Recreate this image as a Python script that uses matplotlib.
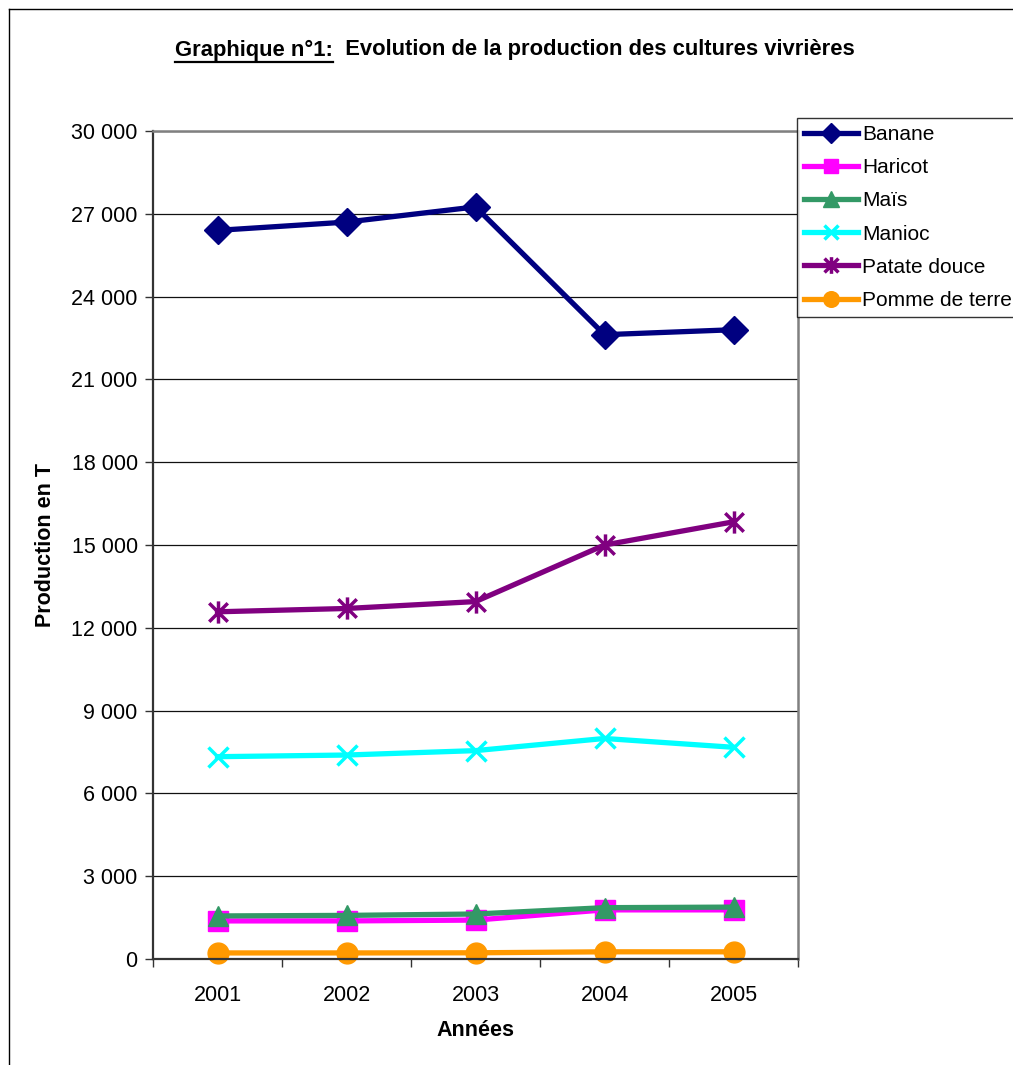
import matplotlib
matplotlib.use("Agg")
import matplotlib.pyplot as plt
from matplotlib.lines import Line2D
from matplotlib.path import Path
from matplotlib.ticker import FuncFormatter, FixedLocator

plt.rcParams["font.family"] = ["Liberation Sans", "DejaVu Sans"]

# Production (tonnes) par culture et par année
annees = ["2001", "2002", "2003", "2004", "2005"]
banane = [26400, 26700, 27250, 22620, 22800]
haricot = [1380, 1380, 1410, 1780, 1780]
mais = [1560, 1580, 1630, 1860, 1880]
manioc = [7330, 7390, 7550, 7990, 7670]
patate_douce = [12580, 12700, 12950, 15000, 15840]
pomme_de_terre = [220, 220, 225, 260, 260]

# étoile "x + barre verticale"
asterisk = Path(
    [(-1, -1), (1, 1), (-1, 1), (1, -1), (0, -1.2), (0, 1.2)],
    [Path.MOVETO, Path.LINETO, Path.MOVETO, Path.LINETO, Path.MOVETO, Path.LINETO],
)

series = [
    ("Banane", banane, "#000080", "D", 14),
    ("Haricot", haricot, "#FF00FF", "s", 14),
    ("Maïs", mais, "#339966", "^", 15),
    ("Manioc", manioc, "#00FFFF", "x", 14),
    ("Patate douce", patate_douce, "#800080", asterisk, 16),
    ("Pomme de terre", pomme_de_terre, "#FF9900", "o", 15),
]

W, H = 1013, 1065
fig = plt.figure(figsize=(W / 100, H / 100), dpi=100)
ax = fig.add_axes([153 / W, 1 - 959 / H, (798 - 153) / W, (959 - 131) / H])

x = list(range(len(annees)))
for name, vals, col, mk, ms in series:
    hollow = mk in ("x",) or isinstance(mk, Path)
    ax.plot(x, vals, color=col, lw=3.8, marker=mk, ms=ms,
            mfc="none" if hollow else col, mec=col,
            mew=2.5 if hollow else 1, label=name, clip_on=False)

ax.set_xlim(-0.5, 4.5)
ax.set_ylim(0, 30000)
ax.set_yticks(range(0, 30001, 3000))
ax.yaxis.set_major_formatter(FuncFormatter(lambda v, p: f"{v:,.0f}".replace(",", " ")))
ax.set_xticks(x)
ax.set_xticklabels(annees)
ax.xaxis.set_minor_locator(FixedLocator([i - 0.5 for i in range(len(annees) + 1)]))
ax.tick_params(axis="x", which="major", length=0, pad=19, labelsize=15.5)
ax.tick_params(axis="x", which="minor", length=6, width=1, color="#333333", direction="out")
ax.tick_params(axis="y", length=6, width=1, color="#333333", pad=5, labelsize=15.5)

ax.grid(axis="y", color="#111111", lw=0.9)
ax.set_axisbelow(True)
for s in ("left", "bottom"):
    ax.spines[s].set_color("#333333")
    ax.spines[s].set_linewidth(1.6)
for s in ("top", "right"):
    ax.spines[s].set_color("#808080")
    ax.spines[s].set_linewidth(1.8)

ax.set_ylabel("Production en T", fontsize=15.5, fontweight="bold")
ax.yaxis.set_label_coords((45 - 153) / 645, 0.5)
ax.yaxis.label.set_va("center")
ax.set_xlabel("Années", fontsize=15.5, fontweight="bold")
ax.xaxis.set_label_coords(0.5, (959 - 1030) / 828)
ax.xaxis.label.set_va("center")

leg = ax.legend(loc="upper left", bbox_to_anchor=(0.998, 1.016), borderaxespad=0,
                fontsize=15, frameon=True, fancybox=False, edgecolor="black",
                handlelength=2.6, handletextpad=0.2, labelspacing=0.68,
                borderpad=0.35, markerscale=0.75)
leg.get_frame().set_linewidth(1.0)

# titre avec la première partie soulignée
part1 = "Graphique n°1:"
part2 = "  Evolution de la production des cultures vivrières"
ty = 1 - 50 / H
t1 = fig.text(0, ty, part1, fontsize=15.8, fontweight="bold", va="center", ha="left")
t2 = fig.text(0, ty, part2, fontsize=15.8, fontweight="bold", va="center", ha="left")
r = fig.canvas.get_renderer()
w1 = t1.get_window_extent(r).width
w2 = t2.get_window_extent(r).width
x0 = 515 - (w1 + w2) / 2
t1.set_x(x0 / W)
t2.set_x((x0 + w1) / W)
uy = 1 - 62 / H
fig.add_artist(Line2D([x0 / W, (x0 + w1) / W], [uy, uy], color="black", lw=1.6))

# cadre de la figure
fig.add_artist(Line2D([9 / W, 9 / W], [0, 1 - 9 / H], color="black", lw=1.0))
fig.add_artist(Line2D([9 / W, 1], [1 - 9 / H, 1 - 9 / H], color="black", lw=1.0))

fig.savefig("out.png", dpi=100)
